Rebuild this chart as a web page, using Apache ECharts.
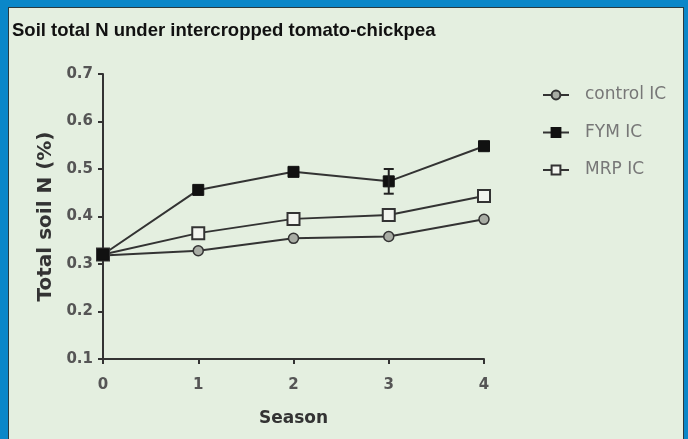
<!DOCTYPE html>
<html><head><meta charset="utf-8">
<script src="https://cdn.jsdelivr.net/npm/echarts@6/dist/echarts.min.js"></script>
<style>
html,body{margin:0;padding:0;background:#0a87c9;width:688px;height:439px;overflow:hidden}
#panel{position:absolute;left:8px;top:7px;width:674px;height:440px;background:#e4efe0;border:1px solid #2a3a40}
#c{position:absolute;left:0;top:0;width:688px;height:439px}
</style></head><body>
<div id="panel"></div>
<div id="c"></div>
<script>
var seasons = [0, 1, 2, 3, 4];
var controlIC = [0.318, 0.328, 0.354, 0.358, 0.394];
var fymIC = [0.320, 0.456, 0.494, 0.474, 0.548];
var mrpIC = [0.320, 0.365, 0.395, 0.403, 0.443];
var fymErr = [0, 0, 0, 0.026, 0];
var yTicks = [0.1, 0.2, 0.3, 0.4, 0.5, 0.6, 0.7];

function pairs(v){ return seasons.map(function(s,i){ return [s, v[i]]; }); }
var errData = seasons.map(function(s,i){ return [s, fymIC[i]-fymErr[i], fymIC[i]+fymErr[i]]; }).filter(function(d){ return d[2]-d[1] > 0; });

var chart = echarts.init(document.getElementById('c'), null, {renderer:'canvas'});
var lineCol = '#333';
chart.setOption({
  backgroundColor: 'transparent',
  animation: false,
  title: {
    text: 'Soil total N under intercropped tomato-chickpea',
    left: 7, top: 16,
    textStyle: {fontFamily: 'Liberation Sans', fontWeight: 'bold', fontSize: 18.5, color: '#111'}
  },
  legend: {
    orient: 'vertical', left: 542, top: 86, padding: 0, itemGap: 19.5, itemWidth: 26, itemHeight: 11,
    textStyle: {fontFamily: 'DejaVu Sans', fontSize: 17, color: '#777', lineHeight: 18, padding: [0, 0, 0, 11]},
    data: ['control IC', 'FYM IC', 'MRP IC']
  },
  grid: {left: 103, right: 204, top: 74, bottom: 80},
  xAxis: {
    type: 'value', min: 0, max: 4, interval: 1,
    name: 'Season', nameLocation: 'middle', nameGap: 51,
    nameTextStyle: {fontFamily: 'DejaVu Sans', fontWeight: 'bold', fontSize: 17, color: '#333'},
    axisLine: {show: true, lineStyle: {color: '#333', width: 2}},
    axisTick: {show: true, length: 5, lineStyle: {color: '#333', width: 2}},
    axisLabel: {fontFamily: 'DejaVu Sans', fontWeight: 'bold', fontSize: 15, color: '#555', margin: 19,
      formatter: function(v){ return String(v); }},
    splitLine: {show: false}
  },
  yAxis: {
    type: 'value', min: yTicks[0], max: yTicks[yTicks.length-1], interval: 0.1,
    name: 'Total soil N (%)', nameLocation: 'middle', nameGap: 46,
    nameTextStyle: {fontFamily: 'DejaVu Sans', fontWeight: 'bold', fontSize: 20, color: '#333'},
    axisLine: {show: true, lineStyle: {color: '#333', width: 2}},
    axisTick: {show: true, length: 5, lineStyle: {color: '#333', width: 2}},
    axisLabel: {fontFamily: 'DejaVu Sans', fontWeight: 'bold', fontSize: 15, color: '#555', margin: 10,
      formatter: function(v){ return v.toFixed(1); }},
    splitLine: {show: false}
  },
  series: [
    {
      name: 'control IC', type: 'line', data: pairs(controlIC),
      symbol: 'circle', symbolSize: 10,
      lineStyle: {color: lineCol, width: 2},
      itemStyle: {color: '#a8aca4', borderColor: '#333', borderWidth: 1.5}
    },
    {
      name: 'MRP IC', type: 'line', data: pairs(mrpIC),
      symbol: 'rect', symbolSize: 12,
      lineStyle: {color: lineCol, width: 2},
      itemStyle: {color: '#f2f5ef', borderColor: '#333', borderWidth: 2}
    },
    {
      name: 'FYM IC', type: 'line', data: pairs(fymIC),
      symbol: 'rect', symbolSize: 11,
      lineStyle: {color: lineCol, width: 2},
      itemStyle: {color: '#111', borderColor: '#111', borderWidth: 1}
    },
    {
      name: 'FYM err', type: 'custom', data: errData, z: 5,
      renderItem: function(params, api){
        var x = api.value(0);
        var lo = api.coord([x, api.value(1)]);
        var hi = api.coord([x, api.value(2)]);
        var w = 5;
        var st = {stroke: '#222', lineWidth: 2};
        return {type: 'group', children: [
          {type: 'line', shape: {x1: lo[0], y1: lo[1], x2: hi[0], y2: hi[1]}, style: st},
          {type: 'line', shape: {x1: lo[0]-w, y1: lo[1], x2: lo[0]+w, y2: lo[1]}, style: st},
          {type: 'line', shape: {x1: hi[0]-w, y1: hi[1], x2: hi[0]+w, y2: hi[1]}, style: st}
        ]};
      }
    }
  ]
});
</script>
</body></html>
